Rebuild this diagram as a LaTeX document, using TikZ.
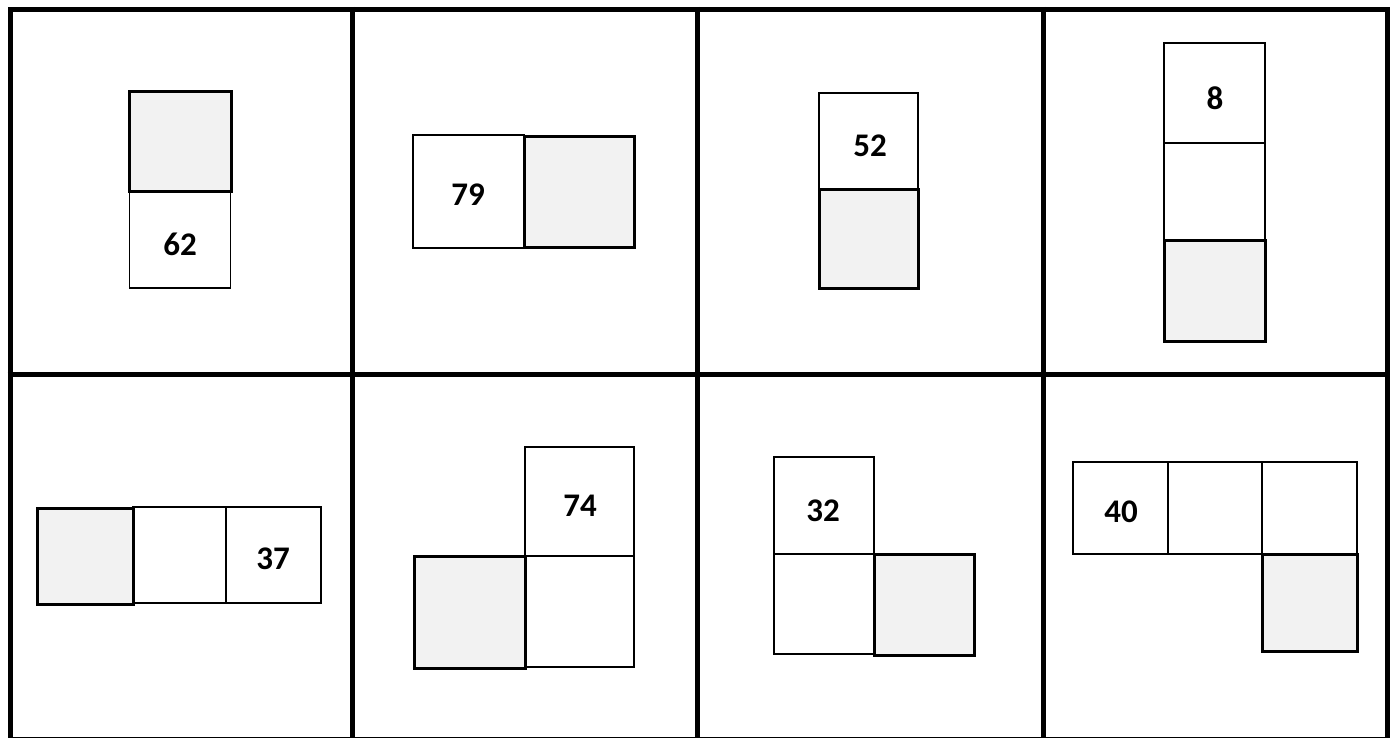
\documentclass[tikz,border=0pt]{standalone}
\usepackage{fontspec}
\setmainfont{Carlito}
\definecolor{shade}{HTML}{F2F2F2}
\tikzset{
  frameline/.style={line width=5pt},
  plainsq/.style={draw, line width=1.3pt},
  greysq/.style={draw, line width=3pt, fill=shade},
  num/.style={font=\fontsize{33}{40}\selectfont\bfseries, inner sep=0pt}
}
\begin{document}
\begin{tikzpicture}[x=1pt,y=-1pt]
  \useasboundingbox (0,0) rectangle (1395,738);
  % frame and dividers
  \draw[frameline] (10,738) -- (10,9.5) -- (1387.5,9.5) -- (1387.5,738);
  \draw[frameline] (7.5,374.5) -- (1390,374.5);
  \foreach \x in {352.5,697,1043.5}
    \draw[frameline] (\x,7) -- (\x,738);
  \draw[line width=1pt] (10,737) -- (1387.5,737);
  % top row
  \draw[plainsq] (129.5,192) rectangle (230.5,288);
  \draw[greysq] (129.5,92) rectangle (231,192);
  \node[num] (n62) at (180,244) {62};
  \draw[plainsq] (413,135) rectangle (524,248);
  \draw[greysq] (524,137) rectangle (634,248);
  \node[num] (n79) at (468,195) {79};
  \draw[plainsq] (819,93) rectangle (918,190);
  \draw[greysq] (819,190) rectangle (918,288);
  \node[num] (n52) at (870,146) {52};
  \draw[plainsq] (1164,43) rectangle (1265,143);
  \draw[plainsq] (1164,143) rectangle (1265,241);
  \draw[greysq] (1164,241) rectangle (1265,341);
  \node[num] (n8) at (1215,98) {8};
  % bottom row
  \draw[plainsq] (133,507) rectangle (226,603);
  \draw[plainsq] (226,507) rectangle (321,603);
  \draw[greysq] (37,508) rectangle (133,604);
  \node[num] (n37) at (273,559) {37};
  \draw[plainsq] (525,447) rectangle (634,556);
  \draw[plainsq] (525,556) rectangle (634,667);
  \draw[greysq] (414,556) rectangle (525,668);
  \node[num] (n74) at (580,506) {74};
  \draw[plainsq] (774,457) rectangle (874,554);
  \draw[plainsq] (774,554) rectangle (874,654);
  \draw[greysq] (874,554) rectangle (974,655);
  \node[num] (n32) at (823,511) {32};
  \draw[plainsq] (1073,462) rectangle (1168,554);
  \draw[plainsq] (1168,462) rectangle (1262,554);
  \draw[plainsq] (1262,462) rectangle (1357,554);
  \draw[greysq] (1262,554) rectangle (1357,651);
  \node[num] (n40) at (1121,512) {40};
\end{tikzpicture}
\end{document}
